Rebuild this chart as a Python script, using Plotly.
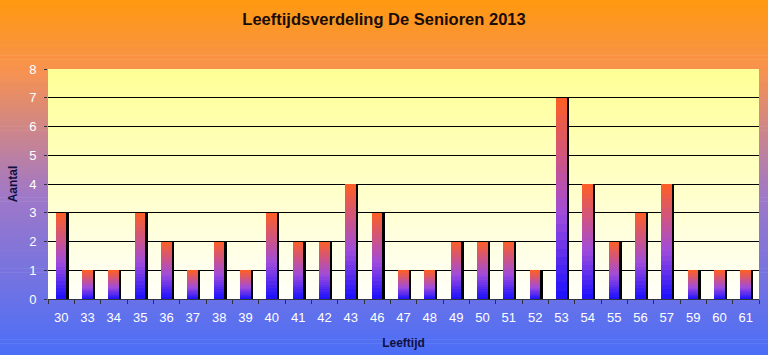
import plotly.graph_objects as go

ages = ["30", "33", "34", "35", "36", "37", "38", "39", "40", "41", "42", "43", "46", "47",
        "48", "49", "50", "51", "52", "53", "54", "55", "56", "57", "59", "60", "61"]
counts = [3, 1, 1, 3, 2, 1, 2, 1, 3, 2, 2, 4, 3, 1, 1, 2, 2, 2, 1, 7, 4, 2, 3, 4, 1, 1, 1]
y_ticks = [0, 1, 2, 3, 4, 5, 6, 7, 8]

W, H = 768, 355
ML, MR, MT, MB = 48, 9, 69, 56


def lerp(c1, c2, t):
    return tuple(round(a + (b - a) * t) for a, b in zip(c1, c2))


def multi(stops, t):
    for i in range(len(stops) - 1):
        p0, c0 = stops[i]
        p1, c1 = stops[i + 1]
        if t <= p1:
            return lerp(c0, c1, (t - p0) / (p1 - p0) if p1 > p0 else 0)
    return stops[-1][1]


def rgb(c):
    return "rgb(%d,%d,%d)" % c


fig = go.Figure()

bar_stops = [(0.0, (25, 15, 255)), (0.42, (160, 75, 220)), (1.0, (255, 95, 35))]
K = 24
OFF, BW = -0.21, 0.40

fig.add_trace(go.Bar(x=ages, y=counts, base=[0] * len(counts), offset=OFF + 0.1, width=BW,
                     marker=dict(color="black", line=dict(width=0)), hoverinfo="skip",
                     showlegend=False))
for k in range(K):
    t = (k + 0.5) / K
    fig.add_trace(go.Bar(x=ages, y=[v / K for v in counts], base=[v * k / K for v in counts],
                         offset=OFF, width=BW,
                         marker=dict(color=rgb(multi(bar_stops, t)), line=dict(width=0)),
                         hoverinfo="skip", showlegend=False))

shapes = []
pw = W - ML - MR
ph = H - MT - MB
x0p, x1p = -ML / pw, (W - ML) / pw
N = 90
bg_stops = [(0.0, (255, 153, 15)), (0.2, (247, 146, 80)), (0.55, (160, 120, 200)), (1.0, (75, 110, 248))]
for i in range(N):
    ytop_px = H * i / N
    ybot_px = H * (i + 1) / N + 0.6
    t = (i + 0.5) / N
    shapes.append(dict(type="rect", xref="paper", yref="paper", x0=x0p, x1=x1p,
                       y0=(H - MB - ybot_px) / ph, y1=(H - MB - ytop_px) / ph,
                       fillcolor=rgb(multi(bg_stops, t)), line=dict(width=0), layer="below"))
M = 40
pa_stops = [(0.0, (255, 255, 150)), (1.0, (255, 255, 250))]
for i in range(M):
    t = (i + 0.5) / M
    shapes.append(dict(type="rect", xref="paper", yref="paper", x0=0, x1=1,
                       y0=1 - (i + 1) / M - 0.003, y1=1 - i / M,
                       fillcolor=rgb(multi(pa_stops, t)), line=dict(width=0), layer="below"))

fig.update_layout(
    width=W, height=H,
    margin=dict(l=ML, r=MR, t=MT, b=MB, autoexpand=False),
    paper_bgcolor="rgba(0,0,0,0)",
    plot_bgcolor="rgba(0,0,0,0)",
    barmode="overlay",
    bargap=0,
    shapes=shapes,
    title=dict(text="<b>Leeftijdsverdeling De Senioren 2013</b>", x=0.5, xref="container",
               y=1 - 19 / H, yanchor="middle",
               font=dict(family="Liberation Sans, Arial", size=16.5, color="#1a0c08")),
    font=dict(family="Liberation Sans, Arial"),
    xaxis=dict(type="category", categoryorder="array", categoryarray=ages, automargin=False,
               tickfont=dict(size=13, color="white"), ticks="outside", tickson="boundaries",
               ticklen=4, tickcolor="#303040", showline=True, linecolor="#303040", linewidth=1,
               showgrid=False, zeroline=False, ticklabelstandoff=6,
               title=dict(text="<b>Leeftijd</b>", font=dict(size=12, color="#101040"), standoff=15)),
    yaxis=dict(range=[0, 8], tickvals=y_ticks, tickfont=dict(size=13, color="white"), automargin=False,
               showgrid=True, gridcolor="black", gridwidth=1, zeroline=False,
               ticks="outside", ticklen=3, tickcolor="#303040", ticklabelstandoff=5,
               title=dict(text="<b>Aantal</b>", font=dict(size=12, color="#101040"), standoff=8)),
)

fig.write_html("out.html", config={"displayModeBar": False},
               post_script="document.body.style.margin='0';document.body.style.padding='0';")
